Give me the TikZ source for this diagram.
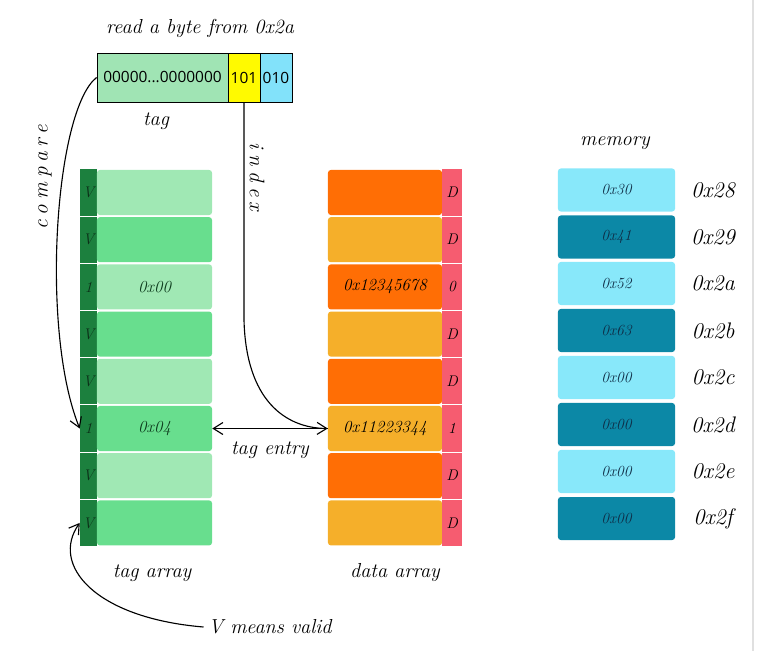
\documentclass[tikz,border=0pt]{standalone}
\usepackage{fontspec}
\newfontfamily\bitsfont{Open Sans}
\newfontfamily\spacedfont[LetterSpace=25]{Latin Modern Roman}
\usetikzlibrary{arrows.meta}

\definecolor{tagbar}{RGB}{160,228,180}
\definecolor{taglight}{RGB}{160,232,180}
\definecolor{tagmid}{RGB}{104,222,142}
\definecolor{validgreen}{RGB}{28,128,62}
\definecolor{idxyellow}{RGB}{255,250,0}
\definecolor{offblue}{RGB}{130,226,250}
\definecolor{datadark}{RGB}{255,110,5}
\definecolor{datalight}{RGB}{245,175,42}
\definecolor{dirtyred}{RGB}{246,92,112}
\definecolor{memlight}{RGB}{136,232,250}
\definecolor{memdark}{RGB}{12,136,166}
\definecolor{inkgreen}{RGB}{14,60,30}
\definecolor{inkblue}{RGB}{15,45,70}

\begin{document}
\begin{tikzpicture}[
    x=0.025cm, y=-0.025cm,
    >={Straight Barb[length=2.4mm, width=3mm]},
    hand/.style={font=\fontsize{14.4}{17}\selectfont\itshape},
    addr/.style={font=\fontsize{16}{19}\selectfont\itshape},
    spaced/.style={font=\spacedfont\fontsize{15}{18}\selectfont\itshape},
    bits/.style={draw=black, line width=0.6pt, minimum height=1.225cm, inner sep=0pt, font=\bitsfont\fontsize{11}{13}\selectfont},
    tagcell/.style={minimum width=2.875cm, minimum height=1.125cm, rounded corners=2pt, inner sep=0pt, text=inkgreen, font=\fontsize{12}{14}\selectfont\itshape},
    validbit/.style={fill=validgreen, minimum width=0.425cm, minimum height=1.15cm, inner sep=0pt, text=inkgreen!80!black, font=\fontsize{11}{13}\selectfont\itshape},
    datacell/.style={minimum width=2.85cm, minimum height=1.125cm, rounded corners=2pt, inner sep=0pt, font=\fontsize{12}{14}\selectfont\itshape},
    dirtybit/.style={fill=dirtyred, minimum width=0.5cm, minimum height=1.15cm, inner sep=0pt, font=\fontsize{11}{13}\selectfont\itshape},
    memcell/.style={minimum width=2.925cm, minimum height=1.075cm, rounded corners=2pt, inner sep=0pt, text=inkblue, font=\fontsize{11}{13}\selectfont\itshape}
]
    \useasboundingbox (0,0) rectangle (763,651);
    \draw[black!12, line width=1.2pt] (753,0) -- (753,651);

    % address being read
    \node[hand] (title) at (200,28) {read a byte from 0x2a};
    \node[bits, fill=tagbar, minimum width=3.275cm] (tagbits) at (162.5,77.5) {00000...0000000};
    \node[bits, fill=idxyellow, minimum width=0.8cm] (idxbits) at (244,77.5) {101};
    \node[bits, fill=offblue, minimum width=0.8cm] (offbits) at (276,77.5) {010};
    \node[hand] (taglabel) at (156,121) {tag};

    % tag array
    \node[validbit] (v0) at (88.5,192.5) {V};
    \node[validbit] (v1) at (88.5,239.7) {V};
    \node[validbit] (v2) at (88.5,286.9) {1};
    \node[validbit] (v3) at (88.5,334.1) {V};
    \node[validbit] (v4) at (88.5,381.3) {V};
    \node[validbit] (v5) at (88.5,428.5) {1};
    \node[validbit] (v6) at (88.5,475.7) {V};
    \node[validbit] (v7) at (88.5,522.9) {V};
    \node[tagcell, fill=taglight] (t0) at (154.5,192.5) {};
    \node[tagcell, fill=tagmid] (t1) at (154.5,239.7) {};
    \node[tagcell, fill=taglight] (t2) at (154.5,286.9) {0x00};
    \node[tagcell, fill=tagmid] (t3) at (154.5,334.1) {};
    \node[tagcell, fill=taglight] (t4) at (154.5,381.3) {};
    \node[tagcell, fill=tagmid] (t5) at (154.5,428.5) {0x04};
    \node[tagcell, fill=taglight] (t6) at (154.5,475.7) {};
    \node[tagcell, fill=tagmid] (t7) at (154.5,522.9) {};
    \node[hand] (tagarray) at (152,573) {tag array};

    % data array
    \node[datacell, fill=datadark] (d0) at (385,192.5) {};
    \node[datacell, fill=datalight] (d1) at (385,239.7) {};
    \node[datacell, fill=datadark] (d2) at (385,286.9) {0x12345678};
    \node[datacell, fill=datalight] (d3) at (385,334.1) {};
    \node[datacell, fill=datadark] (d4) at (385,381.3) {};
    \node[datacell, fill=datalight] (d5) at (385,428.5) {0x11223344};
    \node[datacell, fill=datadark] (d6) at (385,475.7) {};
    \node[datacell, fill=datalight] (d7) at (385,522.9) {};
    \node[dirtybit] (b0) at (452,192.5) {D};
    \node[dirtybit] (b1) at (452,239.7) {D};
    \node[dirtybit] (b2) at (452,286.9) {0};
    \node[dirtybit] (b3) at (452,334.1) {D};
    \node[dirtybit] (b4) at (452,381.3) {D};
    \node[dirtybit] (b5) at (452,428.5) {1};
    \node[dirtybit] (b6) at (452,475.7) {D};
    \node[dirtybit] (b7) at (452,522.9) {D};
    \node[hand] (dataarray) at (395,573) {data array};

    % memory
    \node[hand] (memlabel) at (615,143) {memory};
    \node[memcell, fill=memlight] (m0) at (616.5,190) {0x30};
    \node[memcell, fill=memdark] (m1) at (616.5,237) {0x41};
    \node[memcell, fill=memlight] (m2) at (616.5,283.5) {0x52};
    \node[memcell, fill=memdark] (m3) at (616.5,330.5) {0x63};
    \node[memcell, fill=memlight] (m4) at (616.5,377.5) {0x00};
    \node[memcell, fill=memdark] (m5) at (616.5,424.5) {0x00};
    \node[memcell, fill=memlight] (m6) at (616.5,471.5) {0x00};
    \node[memcell, fill=memdark] (m7) at (616.5,518.5) {0x00};
    \node[addr] (a0) at (713,190) {0x28};
    \node[addr] (a1) at (713,237) {0x29};
    \node[addr] (a2) at (713,283.5) {0x2a};
    \node[addr] (a3) at (713,330.5) {0x2b};
    \node[addr] (a4) at (713,377.5) {0x2c};
    \node[addr] (a5) at (713,424.5) {0x2d};
    \node[addr] (a6) at (713,471.5) {0x2e};
    \node[addr] (a7) at (713,518.5) {0x2f};

    % connectors
    \draw[->, thick] (tagbits.west) .. controls (55,110) and (40,330) .. (v5.west);
    \node[spaced, rotate=90] (comparelabel) at (45,177) {compare};
    \draw[->, thick] (idxbits.south) -- (244,320) .. controls (246,400) and (285,428) .. (d5.west);
    \node[spaced, rotate=-90] (indexlabel) at (257,177) {index};
    \draw[->, thick] (d5.west) -- (t5.east);
    \node[hand] (entrylabel) at (270,450) {tag entry};
    \node[hand] (note) at (270,627) {V means valid};
    \draw[->, thick] (note.west) .. controls (95,618) and (50,565) .. (v7.west);
\end{tikzpicture}
\end{document}
